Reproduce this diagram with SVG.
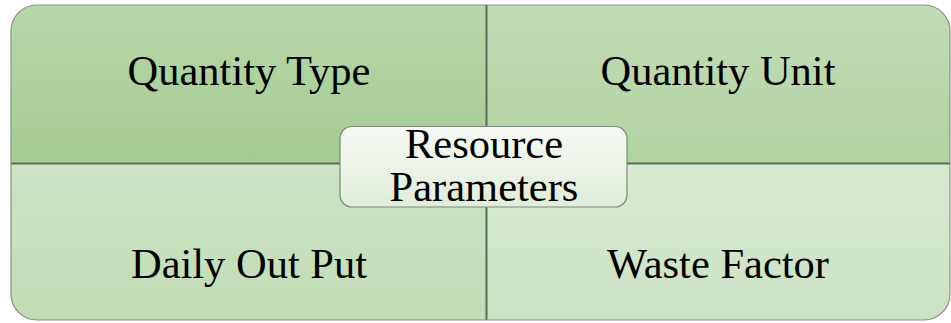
<svg xmlns="http://www.w3.org/2000/svg" width="951" height="323" viewBox="0 0 951 323">
<defs>
<linearGradient id="gTL" x1="0" y1="0" x2="0" y2="1"><stop offset="0" stop-color="#b6d7a8"/><stop offset="1" stop-color="#a5cc92"/></linearGradient>
<linearGradient id="gTR" x1="0" y1="0" x2="0" y2="1"><stop offset="0" stop-color="#c3dcb7"/><stop offset="1" stop-color="#b0d3a0"/></linearGradient>
<linearGradient id="gBL" x1="0" y1="0" x2="0" y2="1"><stop offset="0" stop-color="#cde3c4"/><stop offset="1" stop-color="#c1ddb5"/></linearGradient>
<linearGradient id="gBR" x1="0" y1="0" x2="0" y2="1"><stop offset="0" stop-color="#d9ead2"/><stop offset="1" stop-color="#cbe2c2"/></linearGradient>
<linearGradient id="gC" x1="0" y1="0" x2="0" y2="1"><stop offset="0" stop-color="#f6f9f4"/><stop offset="1" stop-color="#e0edd9"/></linearGradient>
<clipPath id="outer"><rect x="11" y="5" width="939" height="315" rx="26"/></clipPath>
</defs>
<style>
text{font-family:"Liberation Serif","Times New Roman",serif;font-size:42.5px;fill:#000;text-anchor:middle}
.div{stroke:#5b6e55;stroke-width:2;fill:none}
</style>
<g id="quadrants" clip-path="url(#outer)">
<g id="quantity-type"><rect x="11" y="5" width="475" height="158" fill="url(#gTL)"/><text x="249" y="85">Quantity Type</text></g>
<g id="quantity-unit"><rect x="486" y="5" width="464" height="158" fill="url(#gTR)"/><text x="718" y="85">Quantity Unit</text></g>
<g id="daily-out-put"><rect x="11" y="163" width="475" height="157" fill="url(#gBL)"/><text x="249" y="278">Daily Out Put</text></g>
<g id="waste-factor"><rect x="486" y="163" width="464" height="157" fill="url(#gBR)"/><text x="718" y="278">Waste Factor</text></g>
</g>
<g id="connectors">
<line class="div" x1="11" y1="163.5" x2="950" y2="163.5"/>
<line class="div" x1="486.5" y1="5" x2="486.5" y2="320"/>
<rect x="11" y="5" width="939" height="315" rx="26" fill="none" stroke="#8a8f88" stroke-width="1.2"/>
</g>
<g id="resource-parameters">
<rect x="340" y="126.5" width="287" height="80.5" rx="12" fill="url(#gC)" stroke="#7d8779" stroke-width="1.2"/>
<text x="484" y="158">Resource</text>
<text x="484" y="201">Parameters</text>
</g>
</svg>
